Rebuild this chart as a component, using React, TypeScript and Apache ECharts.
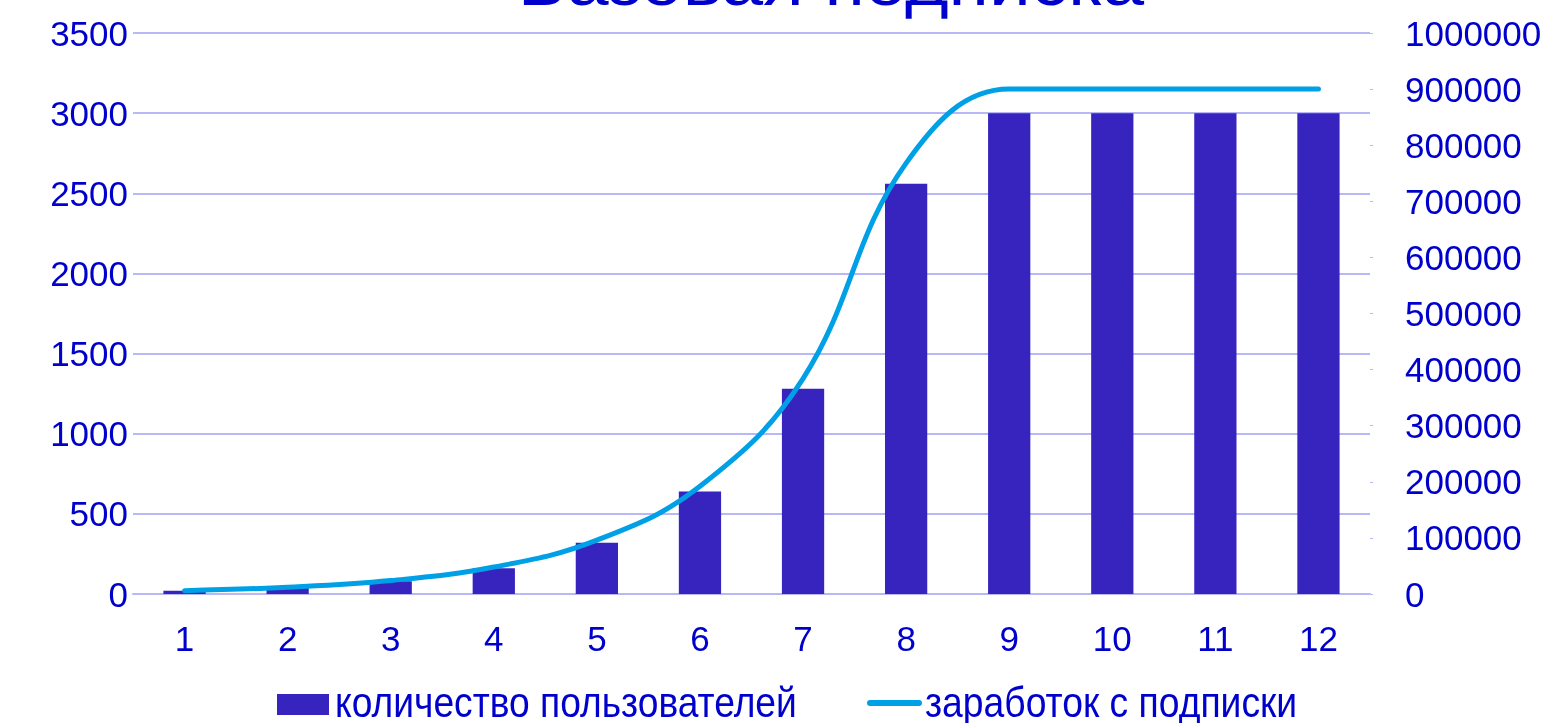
import React, { useEffect, useRef } from "react";
import * as echarts from "echarts";

const titleText = "Базовая подписка";
const categories = ["1", "2", "3", "4", "5", "6", "7", "8", "9", "10", "11", "12"];
const usersName = "количество пользователей";
const earningsName = "заработок с подписки";
const users = [20, 40, 80, 160, 320, 640, 1280, 2560, 3000, 3000, 3000, 3000];
const earnings = [6000, 12000, 24000, 48000, 96000, 192000, 384000, 768000, 900000, 900000, 900000, 900000];

const TEXT = "#0000cc";
const BAR = "#3723be";
const LINE = "#00a0e6";
const GRID = "#b8b8f8";
const FONT = "'Liberation Sans', Arial, sans-serif";

export default function App() {
  const ref = useRef<HTMLDivElement>(null);
  useEffect(() => {
    const chart = echarts.init(ref.current!, null, { renderer: "svg" });
    const plain = (v: number) => String(v);
    const legendFont = `43px ${FONT}`;
    chart.setOption({
      animation: false,
      textStyle: { fontFamily: FONT },
      graphic: [
        {
          type: "text",
          x: 831,
          y: 15,
          scaleX: 1.1,
          style: {
            text: titleText,
            fill: TEXT,
            font: `68px ${FONT}`,
            align: "center",
            verticalAlign: "bottom",
          },
        },
        {
          type: "rect",
          shape: { x: 277, y: 694, width: 52, height: 21 },
          style: { fill: BAR },
        },
        {
          type: "text",
          x: 335,
          y: 703,
          scaleX: 0.865,
          style: { text: usersName, fill: TEXT, font: legendFont, align: "left", verticalAlign: "middle" },
        },
        {
          type: "line",
          shape: { x1: 870, y1: 703, x2: 919, y2: 703 },
          style: { stroke: LINE, lineWidth: 6, lineCap: "round" },
        },
        {
          type: "text",
          x: 925,
          y: 703,
          scaleX: 0.867,
          style: { text: earningsName, fill: TEXT, font: legendFont, align: "left", verticalAlign: "middle" },
        },
      ],
      grid: { left: 133, right: 183, top: 33, bottom: 129 },
      xAxis: {
        type: "category",
        data: categories,
        axisLine: { show: true, lineStyle: { color: GRID, width: 2 } },
        axisTick: { show: false },
        axisLabel: { color: TEXT, fontSize: 35, margin: 27 },
      },
      yAxis: [
        {
          type: "value",
          min: 0,
          max: 3500,
          interval: 500,
          axisLine: { show: false },
          axisTick: { show: false },
          axisLabel: { color: TEXT, fontSize: 35, margin: 5, formatter: plain },
          splitLine: { lineStyle: { color: GRID, width: 2 } },
        },
        {
          type: "value",
          min: 0,
          max: 1000000,
          interval: 100000,
          axisLine: { show: false },
          axisTick: { show: true, length: 3, lineStyle: { color: GRID } },
          axisLabel: { color: TEXT, fontSize: 35, margin: 35, formatter: plain },
          splitLine: { show: false },
        },
      ],
      series: [
        {
          name: usersName,
          type: "bar",
          data: users,
          barWidth: "41%",
          itemStyle: { color: BAR },
          yAxisIndex: 0,
        },
        {
          name: earningsName,
          type: "line",
          data: earnings,
          yAxisIndex: 1,
          smooth: 0.4,
          symbol: "none",
          showSymbol: false,
          lineStyle: { color: LINE, width: 5, cap: "round" },
          itemStyle: { color: LINE },
        },
      ],
    });
    return () => chart.dispose();
  }, []);
  return <div ref={ref} style={{ width: 1553, height: 723, position: "fixed", left: 0, top: 0 }} />;
}
